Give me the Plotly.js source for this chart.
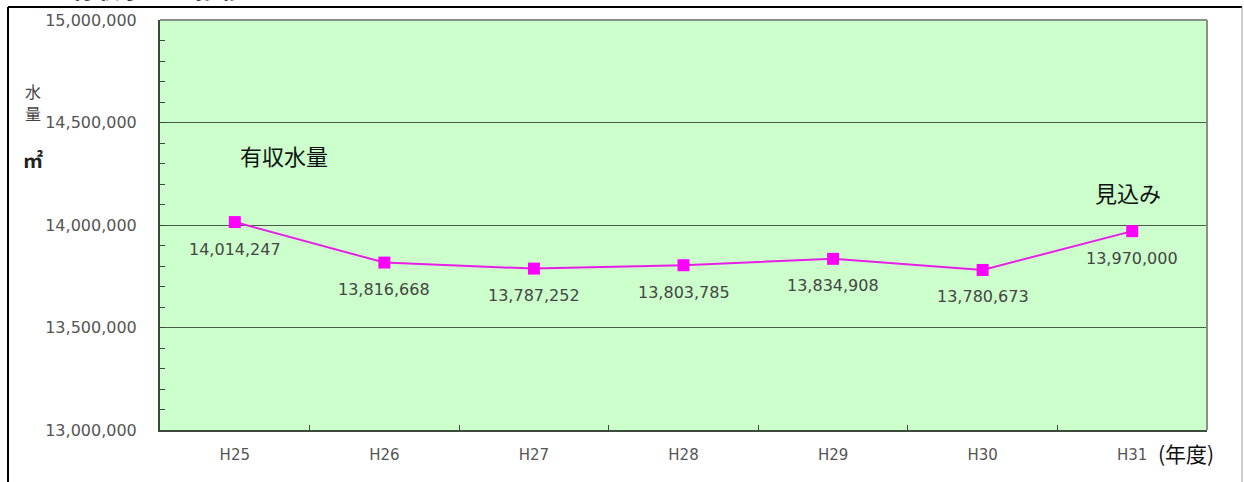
<!DOCTYPE html>
<html>
<head>
<meta charset="utf-8">
<script src="https://cdn.plot.ly/plotly-3.0.1.min.js"></script>
<style>
  html, body { margin: 0; padding: 0; background: #ffffff; }
  #chart { width: 1244px; height: 482px; }
</style>
</head>
<body>
<div id="chart"></div>
<script>
// 有収水量の推移（H25〜H30 実績、H31 見込み）
const years = ['H25', 'H26', 'H27', 'H28', 'H29', 'H30', 'H31'];
const volumes = [14014247, 13816668, 13787252, 13803785, 13834908, 13780673, 13970000];
const yTicks = [13000000, 13500000, 14000000, 14500000, 15000000];

const jpFont = '"Noto Sans CJK JP", "Noto Sans", sans-serif';
const numFont = '"DejaVu Sans", "Liberation Sans", sans-serif';

// Plot area in pixels: left 160, right 1207, top 20, bottom 430
const L = 160, R = 1207, T = 20, B = 430;
const px = x => (x - L) / (R - L);
const py = y => (B - y) / (B - T);

const trace = {
  type: 'scatter',
  mode: 'lines+markers',
  x: years,
  y: volumes,
  line: { color: '#e81ee8', width: 2 },
  marker: { symbol: 'square', size: 12, color: '#ff00ff', line: { width: 0 } },
  hoverinfo: 'x+y',
  showlegend: false
};

// value labels placed under each point
const valueLabels = years.map((yr, i) => ({
  x: yr, y: volumes[i], xref: 'x', yref: 'y',
  text: volumes[i].toLocaleString('en-US'),
  showarrow: false, yshift: -27,
  font: { family: numFont, size: 16, color: '#454545' }
}));

const textNotes = [
  { x: px(284), y: py(155), text: '有収水量', size: 22, color: '#111111' },
  { x: px(1128), y: py(192), text: '見込み', size: 22, color: '#111111' },
  { x: px(1186), y: py(453), text: '(年度)', size: 21, color: '#111111' },
  { x: px(33), y: py(91), text: '水', size: 16, color: '#444444' },
  { x: px(33), y: py(113), text: '量', size: 16, color: '#444444' },
  { x: px(33), y: py(159), text: '<b>㎡</b>', size: 20, color: '#222222' }
].map(a => ({
  x: a.x, y: a.y, xref: 'paper', yref: 'paper', text: a.text, showarrow: false,
  xanchor: 'center', yanchor: 'middle',
  font: { family: jpFont, size: a.size, color: a.color }
}));

// heading, mostly above the page edge
textNotes.push({
  x: px(43), y: py(-13), xref: 'paper', yref: 'paper', xanchor: 'left', yanchor: 'middle',
  text: '■有収水量の推移', showarrow: false,
  font: { family: jpFont, size: 25, color: '#111111', weight: 'bold' }
});

const shapes = [
  // outer frame
  { type: 'line', xref: 'paper', yref: 'paper', x0: px(8), x1: px(8), y0: py(7), y1: py(490), line: { color: '#000000', width: 2 } },
  { type: 'line', xref: 'paper', yref: 'paper', x0: px(8), x1: px(1242), y0: py(7), y1: py(7), line: { color: '#000000', width: 2 } },
  { type: 'line', xref: 'paper', yref: 'paper', x0: px(1242), x1: px(1242), y0: py(7), y1: py(490), line: { color: '#9a9a9a', width: 1 } },
  // plot area top and right edges
  { type: 'line', xref: 'paper', yref: 'paper', x0: 0, x1: 1, y0: 1, y1: 1, line: { color: '#8a8f8a', width: 2 } },
  { type: 'line', xref: 'paper', yref: 'paper', x0: 1, x1: 1, y0: 0, y1: 1, line: { color: '#8a8f8a', width: 2 } }
];

const layout = {
  width: 1244, height: 482,
  margin: { l: L, r: 1244 - R, t: T, b: 482 - B },
  paper_bgcolor: '#ffffff',
  plot_bgcolor: '#ccffcc',
  xaxis: {
    type: 'category',
    range: [-0.5, years.length - 0.5],
    tickson: 'boundaries',
    ticks: 'inside', ticklen: 5, tickcolor: '#3c4a3c', tickwidth: 1,
    showgrid: false, zeroline: false,
    showline: true, linecolor: '#3c4a3c', linewidth: 2,
    ticklabelstandoff: 10,
    tickfont: { family: numFont, size: 15, color: '#555555' },
    fixedrange: true
  },
  yaxis: {
    range: [13000000, 15000000],
    tickmode: 'array', tickvals: yTicks,
    ticktext: yTicks.map(v => v.toLocaleString('en-US')),
    ticks: '', showgrid: true, gridcolor: '#4c5c4c', gridwidth: 1,
    zeroline: false,
    showline: true, linecolor: '#3c4a3c', linewidth: 2,
    minor: { dtick: 100000, ticks: 'inside', ticklen: 5, tickcolor: '#3c4a3c', showgrid: false },
    ticklabelstandoff: 18,
    tickfont: { family: numFont, size: 16, color: '#555555' },
    fixedrange: true
  },
  annotations: valueLabels.concat(textNotes),
  shapes: shapes,
  showlegend: false
};

Plotly.newPlot('chart', [trace], layout, { displayModeBar: false, staticPlot: true });
</script>
</body>
</html>
